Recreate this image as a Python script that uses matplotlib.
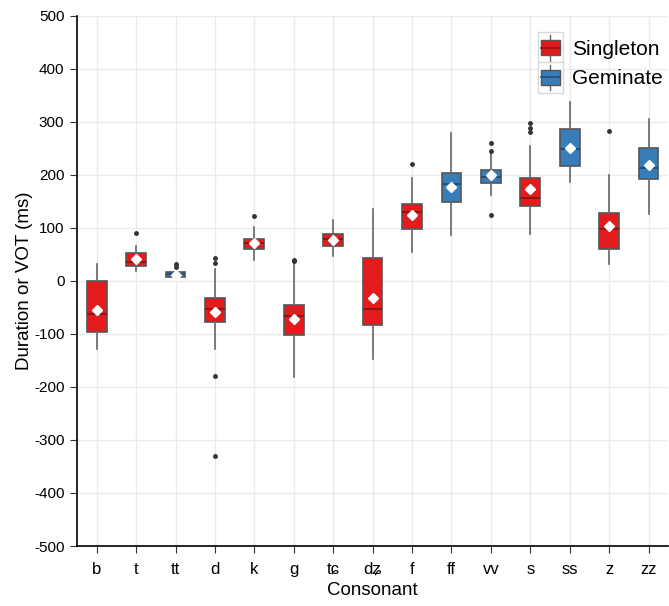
import matplotlib
matplotlib.use("Agg")
import matplotlib.pyplot as plt
from matplotlib.legend_handler import HandlerBase
from matplotlib.patches import Rectangle
from matplotlib.lines import Line2D

plt.rcParams["font.family"] = ["Liberation Sans", "DejaVu Sans"]
plt.rcParams["axes.unicode_minus"] = False

consonants = ["b", "t", "tt", "d", "k", "g", "tɕ", "dʑ", "f", "ff", "vv", "s", "ss", "z", "zz"]
groups = ["Singleton", "Singleton", "Geminate", "Singleton", "Singleton", "Singleton",
          "Singleton", "Singleton", "Singleton", "Geminate", "Geminate", "Singleton",
          "Geminate", "Singleton", "Geminate"]

q1 = [-97, 29, 8, -77, 60, -102, 65, -83, 97, 148, 185, 142, 216, 61, 192]
median = [-62, 36, 13, -53, 72, -67, 79, -53, 130, 183, 195, 157, 248, 97, 213]
q3 = [-1, 52, 17, -33, 79, -46, 88, 43, 145, 204, 209, 194, 287, 128, 250]
whisker_lo = [-128, 18, 8, -128, 40, -182, 46, -147, 54, 87, 162, 88, 187, 31, 127]
whisker_hi = [32, 66, 17, 22, 101, 36, 114, 136, 194, 279, 241, 254, 337, 200, 305]
means = [-55, 41, 11, -59, 71, -72, 77, -33, 125, 177, 199, 174, 251, 104, 219]
outliers = [[], [91], [31, 27], [43, 33, -179, -330], [122], [40, 37], [], [], [220],
            [], [260, 245, 125], [297, 289, 281], [], [282], []]

colors = {"Singleton": "#E41A1C", "Geminate": "#377EB8"}
median_colors = {"Singleton": "#8f1414", "Geminate": "#234f78"}


class BoxHandler(HandlerBase):
    def __init__(self, color, med_color):
        super().__init__()
        self.color = color
        self.med_color = med_color

    def create_artists(self, legend, orig_handle, xdescent, ydescent, width, height,
                       fontsize, trans):
        x0, y0 = -xdescent, -ydescent
        key = Rectangle((x0, y0 - 4), width, height + 8,
                        facecolor="white", edgecolor="#d9d9d9", lw=1, transform=trans)
        cx = x0 + width / 2
        bw = width * 0.75
        box = Rectangle((cx - bw / 2, y0 + height * 0.12), bw, height * 0.76,
                        facecolor=self.color, edgecolor="#555555", lw=1, transform=trans)
        med = Line2D([cx - bw / 2, cx + bw / 2], [y0 + height / 2] * 2,
                     color=self.med_color, lw=1.2, transform=trans)
        top = Line2D([cx, cx], [y0 + height * 0.88, y0 + height + 2],
                     color="#666666", lw=1, transform=trans)
        bot = Line2D([cx, cx], [y0 - 2, y0 + height * 0.12],
                     color="#666666", lw=1, transform=trans)
        return [key, top, bot, box, med]


fig = plt.figure(figsize=(6.69, 6.06), dpi=100)
ax = fig.add_axes([0.115, 0.099, 0.884, 0.875])

stats = []
for i, name in enumerate(consonants):
    stats.append({
        "label": name, "q1": q1[i], "med": median[i], "q3": q3[i],
        "whislo": whisker_lo[i], "whishi": whisker_hi[i],
        "mean": means[i], "fliers": outliers[i],
    })

bp = ax.bxp(stats, positions=range(len(consonants)), widths=0.5, patch_artist=True,
            showmeans=True, showcaps=False,
            boxprops=dict(edgecolor="#555555", linewidth=1.2),
            whiskerprops=dict(color="#666666", linewidth=1.2),
            medianprops=dict(linewidth=1.4),
            meanprops=dict(marker="D", markerfacecolor="white", markeredgecolor="white",
                           markersize=5.5),
            flierprops=dict(marker="o", markerfacecolor="#333333", markeredgecolor="#333333",
                            markersize=2.5))

for i, g in enumerate(groups):
    bp["boxes"][i].set_facecolor(colors[g])
    bp["medians"][i].set_color(median_colors[g])

ax.set_xlim(-0.5, len(consonants) - 0.5)
ax.set_ylim(-500, 500)
ax.set_yticks(range(-500, 501, 100))
ax.set_xticks(range(len(consonants)))
ax.set_xticklabels(consonants)
ax.grid(True, color="#ebebeb", linewidth=1)
ax.set_axisbelow(True)
for side in ["top", "right"]:
    ax.spines[side].set_visible(False)
ax.spines["left"].set_linewidth(1.2)
ax.spines["bottom"].set_linewidth(1.2)
ax.tick_params(axis="both", length=5, color="#333333")
ax.tick_params(axis="y", labelsize=11, pad=4)
ax.tick_params(axis="x", labelsize=12, pad=15)
for lab in ax.get_xticklabels():
    lab.set_verticalalignment("baseline")

ax.set_xlabel("Consonant", fontsize=13.5, labelpad=4)
ax.set_ylabel("Duration or VOT (ms)", fontsize=13.5, labelpad=1)

h_s = Rectangle((0, 0), 1, 1)
h_g = Rectangle((0, 0), 1, 1)
ax.legend([h_s, h_g], ["Singleton", "Geminate"], loc="upper right",
          bbox_to_anchor=(1.005, 0.974), borderaxespad=0, frameon=False, fontsize=15,
          handlelength=1.2, handleheight=1.1, handletextpad=0.45, labelspacing=0.4,
          handler_map={h_s: BoxHandler(colors["Singleton"], median_colors["Singleton"]),
                       h_g: BoxHandler(colors["Geminate"], median_colors["Geminate"])})

fig.savefig("out.png", dpi=100)
